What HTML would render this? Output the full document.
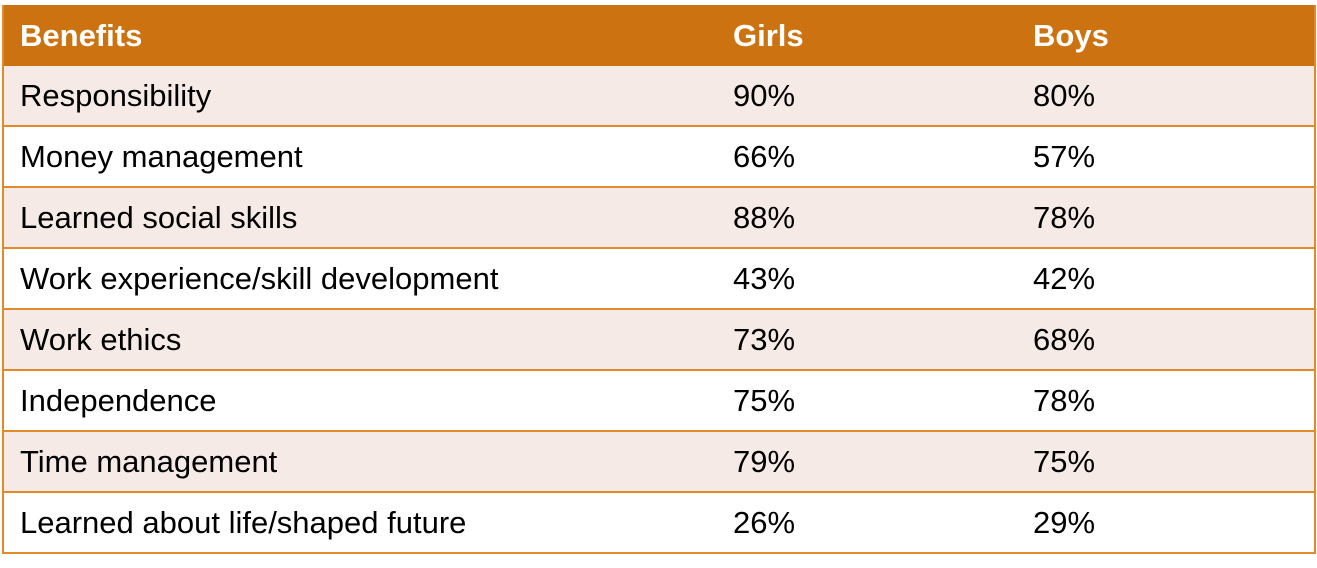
<!DOCTYPE html>
<html><head><meta charset="utf-8"><style>
body{margin:0;background:#fff;width:1317px;height:568px;overflow:hidden;font-family:"Liberation Sans",sans-serif;}
#tbl{position:absolute;left:2px;top:5px;width:1310px;border:2px solid #E08A2A;border-top:none;box-sizing:content-box;}
.row{position:relative;height:59px;border-bottom:2px solid #E08A2A;font-size:31px;color:#000;}
.row:last-child{border-bottom:none}
.hdr{background:#CD7211;color:#fff;font-weight:bold;height:61px;border-bottom:none}
.odd{background:#F5EAE6}
.c{position:absolute;top:50%;transform:translateY(-50%);white-space:nowrap}
.c1{left:16px}.c2{left:729px}.c3{left:1029px}
</style></head><body>
<div id="tbl"></div>
<script>
const benefits=["Responsibility","Money management","Learned social skills","Work experience/skill development","Work ethics","Independence","Time management","Learned about life/shaped future"];
const girls=[90,66,88,43,73,75,79,26];
const boys=[80,57,78,42,68,78,75,29];
const t=document.getElementById('tbl');
function mk(cls,cells,name){
 const r=document.createElement('div');r.className='row '+cls;
 
 
 cells.forEach((txt,i)=>{const c=document.createElement('div');c.className='c c'+(i+1);c.textContent=txt;
 
 
 r.appendChild(c);});
 t.appendChild(r);
}
mk('hdr',["Benefits","Girls","Boys"],'header-row');
benefits.forEach((b,i)=>mk(i%2===0?'odd':'',[b,girls[i]+'%',boys[i]+'%'],'row-'+(i+1)));
</script>
</body></html>
